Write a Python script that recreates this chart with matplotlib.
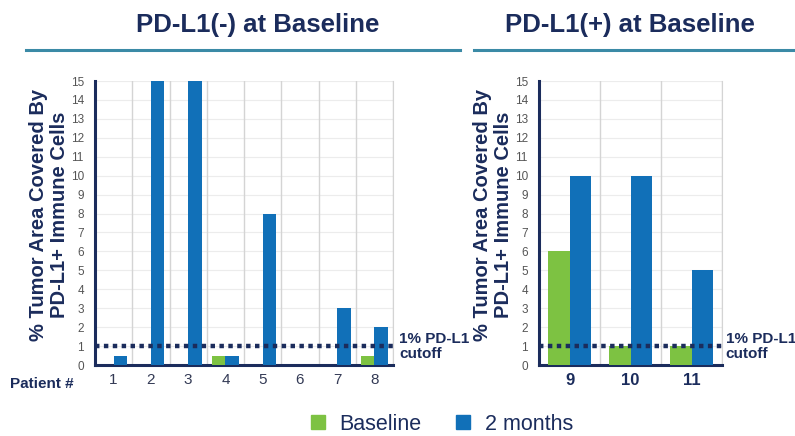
import numpy as np
import matplotlib.pyplot as plt
from matplotlib.patches import Patch

plt.rcParams['font.family'] = ['Liberation Sans', 'DejaVu Sans']

# data
neg_patients = ['1', '2', '3', '4', '5', '6', '7', '8']
neg_baseline = [0, 0, 0, 0.5, 0, 0, 0, 0.5]
neg_2months = [0.5, 15, 15, 0.5, 8, 0, 3, 2]

pos_patients = ['9', '10', '11']
pos_baseline = [6, 1, 1]
pos_2months = [10, 10, 5]

yticks = list(range(0, 16))
cutoff = 1

GREEN = '#7dc242'
BLUE = '#1170b8'
NAVY = '#1b2c5c'
TEAL = '#3b8aa6'
GRID = '#d4d4d4'

W, H = 795, 436
fig = plt.figure(figsize=(W / 100, H / 100), dpi=100)


def frac(x0, y0, x1, y1):
    return [x0 / W, 1 - y1 / H, (x1 - x0) / W, (y1 - y0) / H]


def panel(ax, cats, base, two, bold_ticks):
    x = np.arange(len(cats))
    w = 0.36
    ax.bar(x - w / 2, base, w, color=GREEN, zorder=3)
    ax.bar(x + w / 2, two, w, color=BLUE, zorder=3)
    ax.set_xlim(-0.5, len(cats) - 0.5)
    ax.set_ylim(0, 15)
    ax.set_yticks(yticks)
    ax.set_yticklabels([str(t) for t in yticks], fontsize=8.5, color='#555555')
    ax.set_xticks(x)
    if bold_ticks:
        ax.set_xticklabels(cats, fontsize=12, fontweight='bold', color=NAVY)
    else:
        ax.set_xticklabels(cats, fontsize=11, color='#333a55')
    ax.tick_params(length=0, pad=6)
    ax.tick_params(axis='y', pad=8)
    for yy in yticks[1:]:
        ax.axhline(yy, color='#ececec', lw=0.8, zorder=1)
    for xb in np.arange(0.5, len(cats), 1):
        ax.axvline(xb, color=GRID, lw=1, zorder=1)
    ax.axhline(cutoff, color=NAVY, lw=3.2, ls=(0, (1, 1)), zorder=4)
    ax.spines['top'].set_visible(False)
    ax.spines['right'].set_color(GRID)
    ax.spines['left'].set_color(NAVY)
    ax.spines['left'].set_linewidth(2.2)
    ax.spines['bottom'].set_color(NAVY)
    ax.spines['bottom'].set_linewidth(2.2)
    ax.set_ylabel('% Tumor Area Covered By\nPD-L1+ Immune Cells', fontsize=14.5,
                  fontweight='bold', color=NAVY, linespacing=1.12, labelpad=1)
    ax.yaxis.label.set_y(0.53)
    ax.text(1.02, cutoff, '1% PD-L1\ncutoff', transform=ax.get_yaxis_transform(),
            fontsize=11, fontweight='bold', color=NAVY, va='center', ha='left',
            linespacing=1.1)


ax1 = fig.add_axes(frac(95, 81, 393, 365))
panel(ax1, neg_patients, neg_baseline, neg_2months, False)
ax2 = fig.add_axes(frac(539, 81, 722, 365))
panel(ax2, pos_patients, pos_baseline, pos_2months, True)

fig.text(10 / W, 1 - 384 / H, 'Patient #', fontsize=11, fontweight='bold',
         color=NAVY, va='center', ha='left')

# titles with underline
fig.text(258 / W, 1 - 25 / H, 'PD-L1(-) at Baseline', fontsize=18.5, fontweight='bold',
         color=NAVY, ha='center', va='center')
fig.text(630 / W, 1 - 25 / H, 'PD-L1(+) at Baseline', fontsize=18.5, fontweight='bold',
         color=NAVY, ha='center', va='center')
fig.add_artist(plt.Line2D([26 / W, 460 / W], [1 - 50 / H] * 2, color=TEAL, lw=2.2))
fig.add_artist(plt.Line2D([474 / W, 1.0], [1 - 50 / H] * 2, color=TEAL, lw=2.2))

handles = [Patch(color=GREEN, label='Baseline'), Patch(color=BLUE, label='2 months')]
fig.legend(handles=handles, loc='center', bbox_to_anchor=(442 / W, 1 - 424 / H),
           ncol=2, frameon=False, fontsize=15.5, handlelength=0.65, handleheight=0.65,
           handletextpad=0.7, columnspacing=1.6, labelcolor=NAVY,
           borderpad=0, borderaxespad=0)

fig.savefig('out.png', dpi=100)
